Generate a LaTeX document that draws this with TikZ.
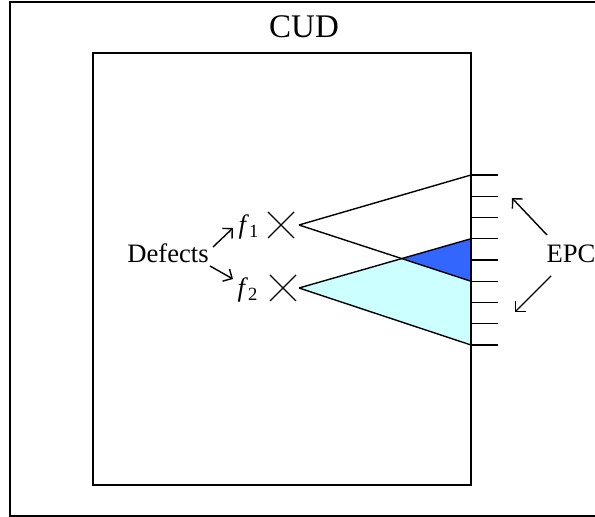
\documentclass[tikz,border=0pt]{standalone}
\usepackage{fontspec}
\setmainfont{Liberation Serif}
\usetikzlibrary{arrows.meta}
\definecolor{epcblue}{HTML}{3366FF}
\definecolor{epccyan}{HTML}{CCFFFF}
\begin{document}
\begin{tikzpicture}[x=0.5pt,y=-0.5pt,line width=0.7pt,
  >={Straight Barb[length=3.5pt,width=7pt]},
  every node/.style={font=\fontsize{13.3}{16}\selectfont,inner sep=0pt}]
  \useasboundingbox (0,0) rectangle (595,517);
  \draw (10,2) rectangle (598,516);
  \draw (93,53) rectangle (471,485);
  \node[font=\fontsize{16.5}{20}\selectfont] (cud) at (304,27) {CUD};
  % pixel array on the right edge
  \coordinate (a1) at (299,225);
  \coordinate (a2) at (299,288);
  \coordinate (t1) at (471,175.0);
  \coordinate (b1) at (471,281.25);
  \coordinate (t2) at (471,238.75);
  \coordinate (b2) at (471,345);
  \fill[epccyan] (a2) -- (t2) -- (b2) -- cycle;
  \fill[epcblue] (intersection of a1--b1 and a2--t2) -- (t2) -- (b1) -- cycle;
  \draw (a1) -- (t1) (a1) -- (b1);
  \draw (a2) -- (t2) (a2) -- (b2);
  \draw (471,53) -- (471,485);
  \foreach \i in {0,...,8}
    \draw (471,175+21.25*\i) -- (498,175+21.25*\i);
  % defects
  \draw (268,212) -- (294,238) (268,238) -- (294,212);
  \draw (270,275) -- (296,301) (270,301) -- (296,275);
  \node (f1) at (249,227) {\textit{f}\textsubscript{1}};
  \node (f2) at (248,290) {\textit{f}\textsubscript{2}};
  \node (defects) at (168,253) {Defects};
  \coordinate (d1) at (213,247);
  \coordinate (d2) at (210,266);
  \draw[->] (d1) -- (233,228);
  \draw[->] (d2) -- (233,279);
  \node[anchor=west] (epc) at (546,254) {EPC};
  \coordinate (e1) at (547,235);
  \coordinate (e2) at (551,276);
  \draw[->] (e1) -- (512,198);
  \draw[->] (e2) -- (515,312);
\end{tikzpicture}
\end{document}
